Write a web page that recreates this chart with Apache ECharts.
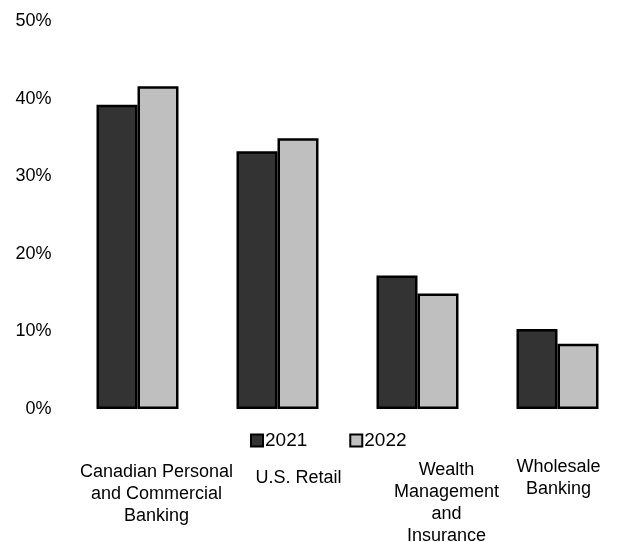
<!DOCTYPE html>
<html>
<head>
<meta charset="utf-8">
<script src="https://cdn.jsdelivr.net/npm/echarts@6/dist/echarts.min.js"></script>
<style>html,body{margin:0;padding:0;background:#fff}#c{width:625px;height:542px}</style>
</head>
<body>
<div id="c"></div>
<script>
var categories = ['Canadian Personal\nand Commercial\nBanking', 'U.S. Retail', 'Wealth\nManagement\nand\nInsurance', 'Wholesale\nBanking'];
var seriesNames = ['2021', '2022'];
var values2021 = [39.2, 33.2, 17.2, 10.3];
var values2022 = [41.6, 34.9, 14.9, 8.4];
var yTicks = [0, 10, 20, 30, 40, 50];

// label offsets (layout only): [top padding, left padding]
var labelPads = [[5, 38], [11, 42], [3, 58], [0, 2]];

var chart = echarts.init(document.getElementById('c'));
var font = 'Liberation Sans, Arial, sans-serif';
chart.setOption({
  animation: false,
  textStyle: { fontFamily: font, color: '#000' },
  grid: { left: 67.5, width: 560, top: 21, height: 388, containLabel: false, outerBoundsMode: 'none' },
  legend: {
    left: 245, top: 426,
    itemWidth: 12, itemHeight: 12, itemGap: 42,
    textStyle: { fontSize: 19, color: '#000', fontFamily: font, padding: [0, 0, 0, -3] },
    data: seriesNames.map(function (n) { return { name: n, icon: 'rect' }; })
  },
  xAxis: {
    type: 'category',
    data: categories.map(function (c, i) {
      return { value: c, textStyle: { padding: [labelPads[i][0], 0, 0, labelPads[i][1]] } };
    }),
    axisLine: { show: false },
    axisTick: { show: false },
    axisLabel: {
      interval: 0, margin: 47, fontSize: 18, lineHeight: 22, color: '#000',
      fontFamily: font, verticalAlign: 'top', align: 'center'
    }
  },
  yAxis: {
    type: 'value', min: yTicks[0], max: yTicks[yTicks.length - 1], interval: 10,
    splitLine: { show: false },
    axisLine: { show: false },
    axisTick: { show: false },
    axisLabel: {
      fontSize: 18, color: '#000', fontFamily: font, margin: 16,
      formatter: function (v) { return v + '%'; }
    }
  },
  series: [
    {
      name: seriesNames[0], type: 'bar', data: values2021, barWidth: 41, barGap: '0%',
      itemStyle: { color: '#333333', borderColor: '#000', borderWidth: 2.5 }
    },
    {
      name: seriesNames[1], type: 'bar', data: values2022, barWidth: 41, barGap: '0%',
      itemStyle: { color: '#bfbfbf', borderColor: '#000', borderWidth: 2.5 }
    }
  ]
});
</script>
</body>
</html>
